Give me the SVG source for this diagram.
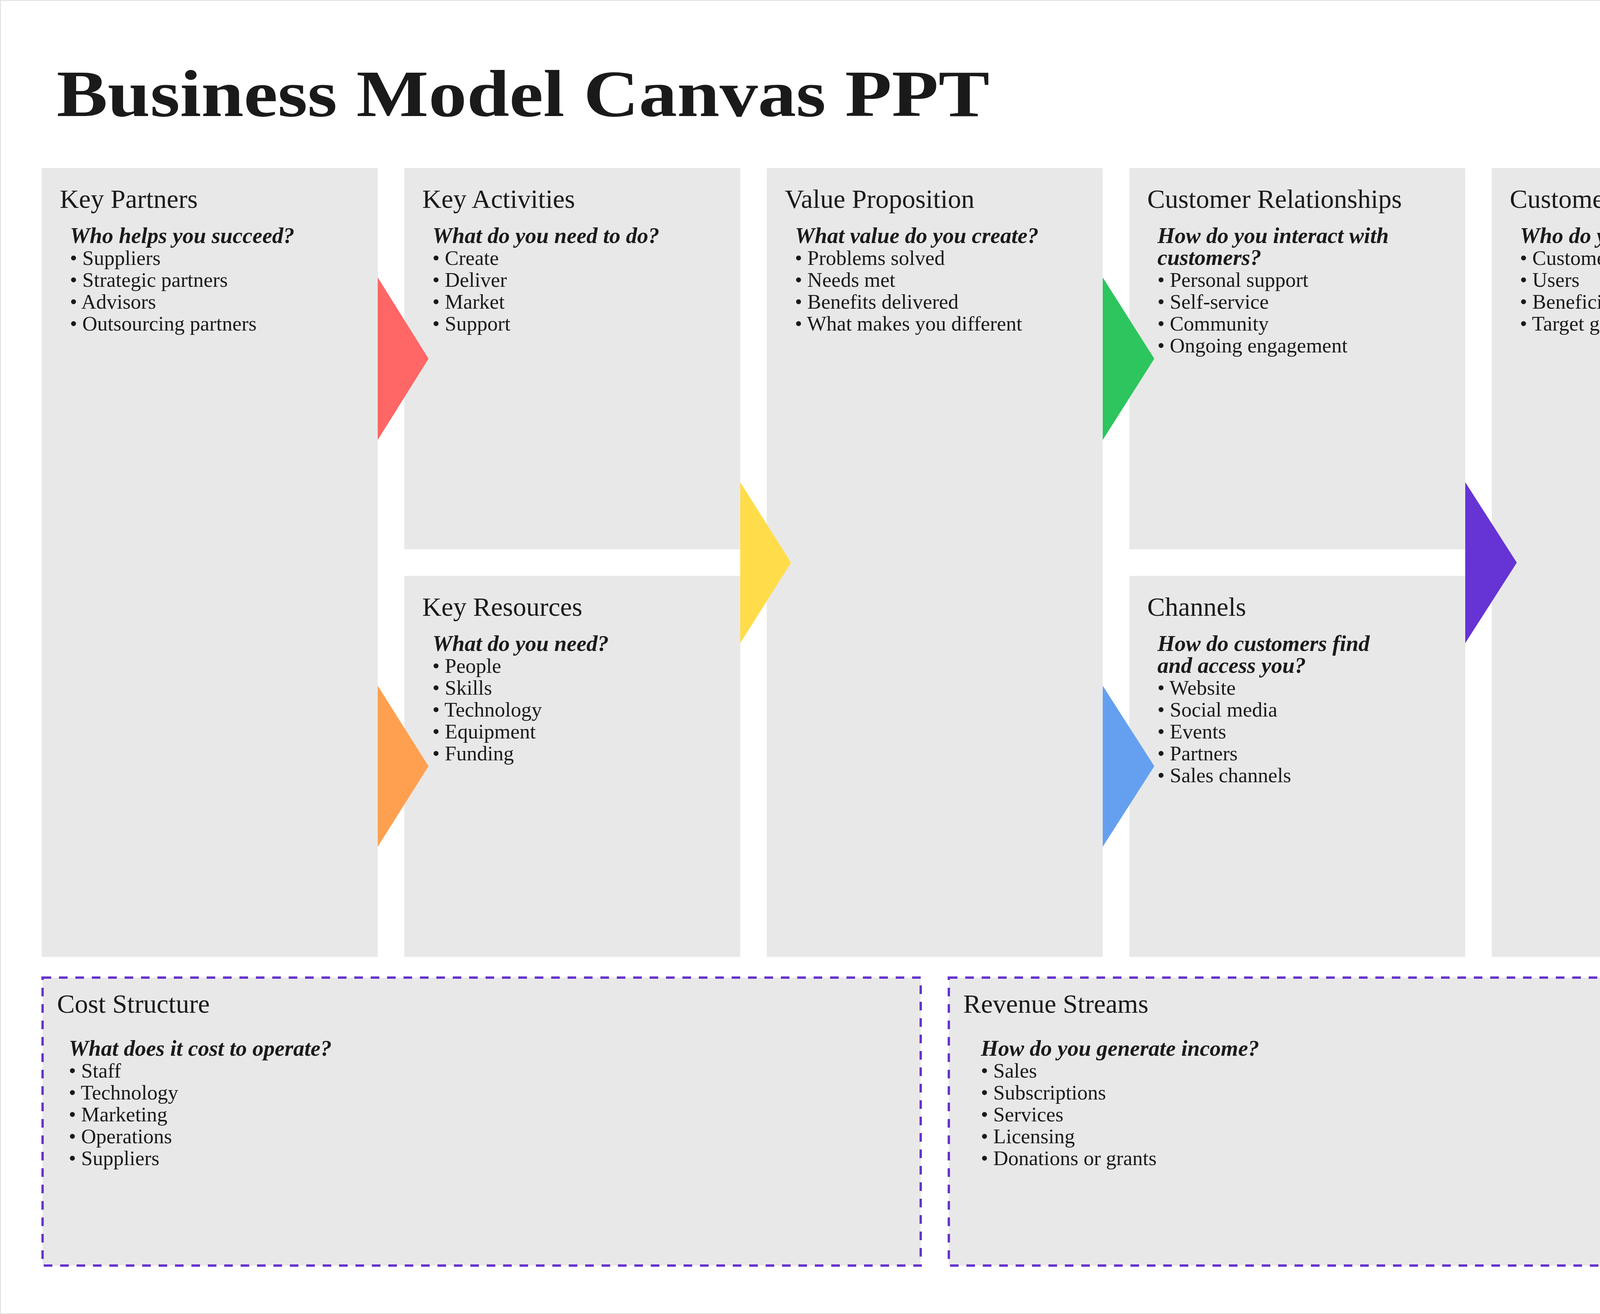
<svg xmlns="http://www.w3.org/2000/svg" width="4756" height="3363" viewBox="0 0 4756 3363">
<style>
.box{fill:#e8e8e8}
.dash{fill:#e8e8e8;stroke:#6633cc;stroke-width:6;stroke-dasharray:22 20}
text{font-family:"Liberation Serif","DejaVu Serif",serif;fill:#1a1a1a}
.h{font-size:68px}
.q{font-size:57px;font-weight:bold;font-style:italic}
.b{font-size:53px}
.t{font-size:170px;font-weight:bold}
</style>
<rect x="0" y="0" width="4756" height="3363" fill="#fff" stroke="#e0e0e0" stroke-width="4"/>
<text class="t" x="145" y="297" textLength="2388" lengthAdjust="spacingAndGlyphs">Business Model Canvas PPT</text>

<g id="key-partners"><rect class="box" x="107" y="430" width="860" height="2019"/>
<text class="h" x="153" y="532">Key Partners</text>
<text class="q" x="179" y="622">Who helps you succeed?</text>
<text class="b" x="179" y="678">• Suppliers</text><text class="b" x="179" y="734">• Strategic partners</text><text class="b" x="179" y="790">• Advisors</text><text class="b" x="179" y="846">• Outsourcing partners</text></g>

<g id="key-activities"><rect class="box" x="1035" y="430" width="860" height="976"/>
<text class="h" x="1081" y="532">Key Activities</text>
<text class="q" x="1107" y="622">What do you need to do?</text>
<text class="b" x="1107" y="678">• Create</text><text class="b" x="1107" y="734">• Deliver</text><text class="b" x="1107" y="790">• Market</text><text class="b" x="1107" y="846">• Support</text></g>

<g id="key-resources"><rect class="box" x="1035" y="1474" width="860" height="975"/>
<text class="h" x="1081" y="1576">Key Resources</text>
<text class="q" x="1107" y="1666">What do you need?</text>
<text class="b" x="1107" y="1722">• People</text><text class="b" x="1107" y="1778">• Skills</text><text class="b" x="1107" y="1834">• Technology</text><text class="b" x="1107" y="1890">• Equipment</text><text class="b" x="1107" y="1946">• Funding</text></g>

<g id="value-proposition"><rect class="box" x="1963" y="430" width="860" height="2019"/>
<text class="h" x="2009" y="532">Value Proposition</text>
<text class="q" x="2035" y="622">What value do you create?</text>
<text class="b" x="2035" y="678">• Problems solved</text><text class="b" x="2035" y="734">• Needs met</text><text class="b" x="2035" y="790">• Benefits delivered</text><text class="b" x="2035" y="846">• What makes you different</text></g>

<g id="customer-relationships"><rect class="box" x="2891" y="430" width="860" height="976"/>
<text class="h" x="2937" y="532">Customer Relationships</text>
<text class="q" x="2963" y="622">How do you interact with</text>
<text class="q" x="2963" y="678">customers?</text>
<text class="b" x="2963" y="734">• Personal support</text><text class="b" x="2963" y="790">• Self-service</text><text class="b" x="2963" y="846">• Community</text><text class="b" x="2963" y="902">• Ongoing engagement</text></g>

<g id="channels"><rect class="box" x="2891" y="1474" width="860" height="975"/>
<text class="h" x="2937" y="1576">Channels</text>
<text class="q" x="2963" y="1666">How do customers find</text>
<text class="q" x="2963" y="1722">and access you?</text>
<text class="b" x="2963" y="1778">• Website</text><text class="b" x="2963" y="1834">• Social media</text><text class="b" x="2963" y="1890">• Events</text><text class="b" x="2963" y="1946">• Partners</text><text class="b" x="2963" y="2002">• Sales channels</text></g>

<g id="customer-segments"><rect class="box" x="3819" y="430" width="860" height="2019"/>
<text class="h" x="3865" y="532">Customer Segments</text>
<text class="q" x="3891" y="622">Who do you serve?</text>
<text class="b" x="3891" y="678">• Customers</text><text class="b" x="3891" y="734">• Users</text><text class="b" x="3891" y="790">• Beneficiaries</text><text class="b" x="3891" y="846">• Target groups</text></g>

<g id="cost-structure"><rect class="dash" x="109" y="2502" width="2248" height="737"/>
<text class="h" x="146" y="2592">Cost Structure</text>
<text class="q" x="176" y="2702">What does it cost to operate?</text>
<text class="b" x="176" y="2758">• Staff</text><text class="b" x="176" y="2814">• Technology</text><text class="b" x="176" y="2870">• Marketing</text><text class="b" x="176" y="2926">• Operations</text><text class="b" x="176" y="2982">• Suppliers</text></g>

<g id="revenue-streams"><rect class="dash" x="2429" y="2502" width="2248" height="737"/>
<text class="h" x="2466" y="2592">Revenue Streams</text>
<text class="q" x="2511" y="2702">How do you generate income?</text>
<text class="b" x="2511" y="2758">• Sales</text><text class="b" x="2511" y="2814">• Subscriptions</text><text class="b" x="2511" y="2870">• Services</text><text class="b" x="2511" y="2926">• Licensing</text><text class="b" x="2511" y="2982">• Donations or grants</text></g>

<g id="connectors">
<polygon points="967,710 1097,918 967,1126" fill="#ff6666"/>
<polygon points="967,1755 1097,1961 967,2167" fill="#ffa050"/>
<polygon points="1895,1234 2025,1440 1895,1646" fill="#ffdd4a"/>
<polygon points="2823,710 2955,918 2823,1126" fill="#2dc55e"/>
<polygon points="2823,1755 2955,1961 2823,2167" fill="#65a0f0"/>
<polygon points="3751,1234 3883,1440 3751,1646" fill="#6633d4"/>
</g>
</svg>
